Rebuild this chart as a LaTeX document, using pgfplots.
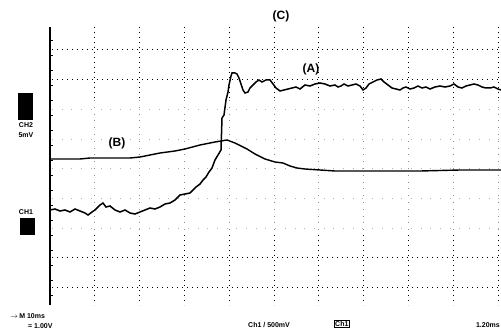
\documentclass[border=0pt]{standalone}
\usepackage{pgfplots}
\pgfplotsset{compat=1.18}
\usepackage{fontspec}
\setmainfont{Liberation Sans}
\begin{document}
\begin{tikzpicture}
\begin{axis}[
  x=1pt, y=1pt,
  xmin=50, xmax=500, ymin=30, ymax=308,
  axis line style={draw=none},
  xtick=\empty, ytick=\empty,
  clip=false,
]
% grid (dotted, as on the scope screen)
\pgfplotsinvokeforeach{94.8,139.6,184.4,229.2,274,318.8,363.6,408.4,453.2,498}{
  \draw[black, line width=1pt, dash pattern=on 1pt off 4pt] (axis cs:#1,308) -- (axis cs:#1,235);
  \draw[black!45, line width=0.8pt, dash pattern=on 0.8pt off 6pt] (axis cs:#1,235) -- (axis cs:#1,100);
  \draw[black, line width=1pt, dash pattern=on 1pt off 4pt] (axis cs:#1,100) -- (axis cs:#1,30);
}
\pgfplotsinvokeforeach{48,78,255,285}{
  \draw[black, line width=1pt, dash pattern=on 1pt off 4pt] (axis cs:52,#1) -- (axis cs:500,#1);
}
\pgfplotsinvokeforeach{107,137,167,196,226}{
  \draw[black!30, line width=0.7pt, dash pattern=on 0.7pt off 9pt] (axis cs:52,#1) -- (axis cs:500,#1);
}
% trace A
\addplot[black, line width=1.5pt] coordinates {
(50,125)(55,126)(60,124)(65,125)(70,123)(75,126)(80,124)(85,122)(88,120)(92,123)(95,125)(100,130)(103,132)(106,128)(110,129)(115,125)(120,123)(125,125)(130,122)(135,121)(140,123)(145,125)(150,127)(155,126)(160,128)(165,131)(170,132)(175,135)(180,140)(185,141)(190,142)(193,145)(196,148)(200,151)(203,155)(206,158)(209,163)(212,167)(215,175)(218,180)(221,185)(222,217)(224,220)(226,235)(228,243)(229,250)(231,259)(232,262)(235,262)(237,261)(239,257)(241,251)(243,245)(245,242)(248,243)(250,247)(253,250)(256,253)(259,255)(262,253)(266,255)(270,255)(273,251)(276,247)(280,244)(284,245)(288,246)(292,247)(296,248)(300,246)(305,250)(310,249)(315,251)(320,252)(325,251)(330,249)(335,250)(338,248)(341,249)(344,251)(348,249)(352,250)(356,251)(360,249)(363,245)(366,247)(369,251)(373,253)(377,255)(381,256)(384,253)(388,250)(392,247)(396,246)(400,245)(403,247)(406,248)(410,246)(414,247)(418,249)(422,247)(426,248)(430,246)(435,248)(440,249)(445,248)(450,249)(454,251)(458,248)(462,247)(466,249)(470,250)(474,251)(478,250)(482,248)(486,247)(490,247)(494,248)(498,246)(501,245)
};
% trace B
\addplot[black, line width=1.4pt] coordinates {
(50,176)(60,176)(70,176)(80,176)(90,177)(100,177)(110,177)(120,177)(130,177)(140,178)(150,180)(160,182)(175,184)(185,186)(200,190)(215,193)(227,195)(235,192)(241,189)(247,186)(255,181)(265,176)(275,173)(283,172)(290,169)(297,167)(305,166)(320,165)(335,164)(350,164)(380,164)(420,164)(460,165)(480,165)(501,165)
};
\draw[black, line width=1.6pt] (axis cs:50,30) -- (axis cs:50,308);
\pgfplotsinvokeforeach{40,55,70,85,100,115,130,145,160,175,190,205,220,235,250,265,280,295}{
  \draw[black, line width=0.6pt] (axis cs:50,#1) -- (axis cs:53,#1);
}
\fill[black] (axis cs:18,242) rectangle (axis cs:33,215);
\fill[black] (axis cs:20,117) rectangle (axis cs:35,100);
\node[font=\scriptsize\bfseries, inner sep=0pt] at (axis cs:26,210) {CH2};
\node[font=\scriptsize\bfseries, inner sep=0pt] at (axis cs:26,200) {5mV};
\node[font=\scriptsize\bfseries, inner sep=0pt] at (axis cs:26,123) {CH1};
\node[font=\large\bfseries, inner sep=0pt] at (axis cs:117,192) {(B)};
\node[font=\large\bfseries, inner sep=0pt] at (axis cs:311,266) {(A)};
\node[font=\large\bfseries, inner sep=0pt] at (axis cs:281,319) {(C)};
\node[font=\scriptsize\bfseries, inner sep=0pt, anchor=west] at (axis cs:10,19) {$\rightarrow$\,M 10ms};
\node[font=\scriptsize\bfseries, inner sep=0pt, anchor=west] at (axis cs:28,9) {= 1.00V};
\node[font=\scriptsize\bfseries, inner sep=0pt, anchor=west] at (axis cs:248,10) {Ch1 / 500mV};
\node[font=\scriptsize\bfseries, inner sep=1pt, draw, anchor=west] at (axis cs:334,11) {Ch1};
\node[font=\scriptsize\bfseries, inner sep=0pt, anchor=east] at (axis cs:500,10) {1.20ms};
\coordinate (bl) at (axis cs:0,0);
\coordinate (tr) at (axis cs:501,335);
\end{axis}
\pgfresetboundingbox
\useasboundingbox (bl) rectangle (tr);
\end{tikzpicture}
\end{document}
